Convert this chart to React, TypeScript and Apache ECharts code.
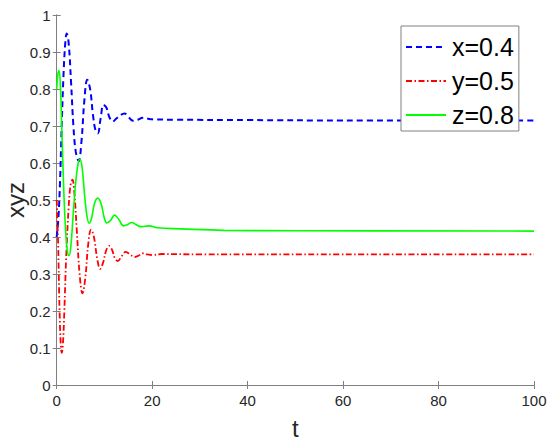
import React, { useEffect, useRef } from "react";
import * as echarts from "echarts";

const xTicks = [0, 20, 40, 60, 80, 100];
const seriesNames = ["x=0.4", "y=0.5", "z=0.8"];

// x (blue dashed): [t, value]
const xSeries: [number, number][] = [
  [0, 0.4], [0.35, 0.45], [0.7, 0.55], [1.0, 0.68], [1.4, 0.83], [1.8, 0.925], [2.1, 0.95],
  [2.5, 0.925], [3.0, 0.82], [3.5, 0.7], [4.0, 0.63], [4.6, 0.605], [5.2, 0.66], [5.8, 0.77],
  [6.4, 0.825], [7.0, 0.8], [7.6, 0.73], [8.1, 0.69], [8.6, 0.68], [9.2, 0.72], [9.8, 0.757],
  [10.4, 0.75], [11.0, 0.725], [11.7, 0.712], [12.5, 0.72], [13.4, 0.73], [14.2, 0.734],
  [15.0, 0.725], [16.0, 0.714], [17.0, 0.717], [18.0, 0.722], [19.0, 0.72], [20.0, 0.718],
  [25, 0.717], [40, 0.716], [60, 0.715], [100, 0.715],
];

// y (red dash-dot)
const ySeries: [number, number][] = [
  [0, 0.5], [0.3, 0.38], [0.6, 0.2], [0.85, 0.11], [1.05, 0.087], [1.3, 0.11], [1.6, 0.2],
  [2.0, 0.35], [2.5, 0.48], [2.9, 0.54], [3.3, 0.555], [3.7, 0.52], [4.2, 0.42], [4.8, 0.3],
  [5.4, 0.248], [6.0, 0.29], [6.6, 0.38], [7.2, 0.42], [7.8, 0.4], [8.5, 0.34], [9.1, 0.314],
  [9.7, 0.33], [10.4, 0.365], [11.0, 0.376], [11.6, 0.365], [12.2, 0.342], [12.8, 0.335],
  [13.6, 0.348], [14.5, 0.36], [15.4, 0.352], [16.4, 0.346], [17.2, 0.35], [18.0, 0.356],
  [19.0, 0.353], [20.0, 0.351], [22, 0.354], [30, 0.353], [60, 0.353], [100, 0.353],
];

// z (green solid)
const zSeries: [number, number][] = [
  [0, 0.8], [0.25, 0.84], [0.5, 0.85], [0.8, 0.8], [1.1, 0.68], [1.5, 0.52], [1.9, 0.41],
  [2.3, 0.355], [2.6, 0.35], [3.0, 0.38], [3.5, 0.47], [4.0, 0.55], [4.5, 0.6], [4.85, 0.61],
  [5.3, 0.59], [5.8, 0.52], [6.3, 0.46], [6.8, 0.437], [7.3, 0.45], [7.9, 0.49], [8.6, 0.505],
  [9.3, 0.49], [10.0, 0.45], [10.5, 0.438], [11.3, 0.445], [12.1, 0.459], [13.0, 0.448],
  [14.0, 0.43], [14.8, 0.433], [15.7, 0.439], [16.6, 0.434], [17.6, 0.428], [18.5, 0.429],
  [19.4, 0.43], [21, 0.425], [26, 0.422], [35, 0.418], [50, 0.417], [100, 0.416],
];

const FONT = "'Liberation Sans', Arial, Helvetica, sans-serif";
const AXIS_GRAY = "#808080";
const LABEL = "#262626";

export default function App() {
  const ref = useRef<HTMLDivElement>(null);
  useEffect(() => {
    if (!ref.current) return;
    const chart = echarts.init(ref.current, undefined, { renderer: "svg" });
    const axisCommon = {
      axisLine: { show: true, lineStyle: { color: AXIS_GRAY, width: 1 } },
      axisTick: { show: true, inside: true, length: 4, lineStyle: { color: AXIS_GRAY } },
      splitLine: { show: false },
    };
    chart.setOption({
      animation: false,
      backgroundColor: "#fff",
      textStyle: { fontFamily: FONT },
      grid: {
        left: 56.7, right: 16, top: 15, bottom: 58,
        containLabel: false, outerBoundsMode: "none",
      },
      xAxis: [
        {
          type: "value", min: xTicks[0], max: xTicks[xTicks.length - 1], interval: 20,
          position: "bottom",
          name: "t", nameLocation: "middle", nameGap: 31, nameMoveOverlap: false,
          nameTextStyle: { fontSize: 24, color: LABEL, fontFamily: FONT },
          axisLabel: { fontSize: 15, color: LABEL, margin: 8, fontFamily: FONT },
          ...axisCommon,
        },
        {
          type: "value", min: 0, max: 100, interval: 20, position: "top",
          axisLabel: { show: false },
          ...axisCommon,
        },
      ],
      yAxis: [
        {
          type: "value", min: 0, max: 1, interval: 0.1, position: "left",
          name: "xyz", nameLocation: "middle", nameGap: 31, nameRotate: 90,
          nameMoveOverlap: false,
          nameTextStyle: { fontSize: 24, lineHeight: 20, color: LABEL, fontFamily: FONT },
          axisLabel: { fontSize: 15, color: LABEL, margin: 6, fontFamily: FONT },
          ...axisCommon,
        },
        {
          type: "value", min: 0, max: 1, interval: 0.1, position: "right",
          axisLabel: { show: false },
          ...axisCommon,
        },
      ],
      legend: {
        data: seriesNames,
        orient: "vertical",
        left: 401,
        top: 26,
        padding: [6, 5, 1, 4],
        itemWidth: 40,
        itemHeight: 14,
        itemGap: 4,
        itemStyle: { opacity: 0 },
        backgroundColor: "#fff",
        borderColor: "#808080",
        borderWidth: 1,
        borderRadius: 0,
        textStyle: { fontSize: 25, color: "#000", lineHeight: 30, fontFamily: FONT, padding: [0, 0, 0, 1] },
      },
      series: [
        {
          name: seriesNames[0], type: "line", data: xSeries, smooth: 0.4,
          symbol: "none", showSymbol: false,
          lineStyle: { color: "#0000ff", width: 2, type: [6, 4] },
          itemStyle: { color: "#0000ff" },
        },
        {
          name: seriesNames[1], type: "line", data: ySeries, smooth: 0.4,
          symbol: "none", showSymbol: false,
          lineStyle: { color: "#ff0000", width: 1.8, type: [6, 2.5, 1.5, 2.5] },
          itemStyle: { color: "#ff0000" },
        },
        {
          name: seriesNames[2], type: "line", data: zSeries, smooth: 0.4,
          symbol: "none", showSymbol: false,
          lineStyle: { color: "#00ff00", width: 1.6, type: "solid" },
          itemStyle: { color: "#00ff00" },
        },
      ],
    });
    return () => chart.dispose();
  }, []);
  return (
    <div
      ref={ref}
      style={{ position: "fixed", left: 0, top: 0, width: 550, height: 443 }}
    />
  );
}
